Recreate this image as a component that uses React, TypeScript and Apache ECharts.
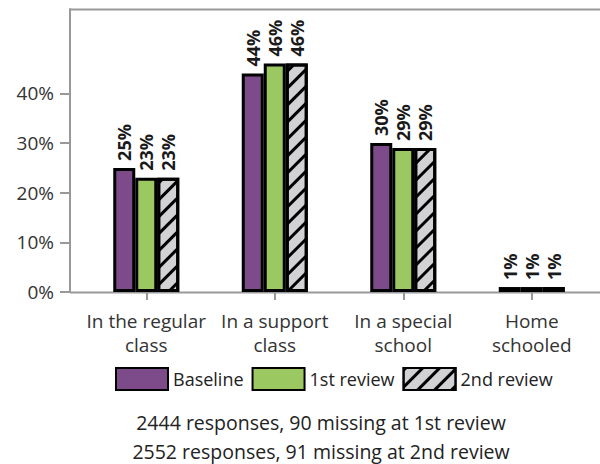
import React, { useEffect, useRef } from "react";
import * as echarts from "echarts";

const categories = ["In the regular\nclass", "In a support\nclass", "In a special\nschool", "Home\nschooled"];
const baseline = [0.25, 0.44, 0.30, 0.01];
const review1 = [0.23, 0.46, 0.29, 0.01];
const review2 = [0.23, 0.46, 0.29, 0.01];
const seriesNames = ["Baseline", "1st review", "2nd review"];
const yTicks = [0, 0.1, 0.2, 0.3, 0.4];
const footnotes = [
  "2444 responses, 90 missing at 1st review",
  "2552 responses, 91 missing at 2nd review",
];

const FONT = "Open Sans";

export default function App() {
  const ref = useRef<HTMLDivElement>(null);
  useEffect(() => {
    if (!ref.current) return;
    const chart = echarts.init(ref.current, null, { renderer: "svg" });
    const label = {
      show: true,
      position: "top",
      rotate: 90,
      align: "left",
      verticalAlign: "middle",
      distance: 7,
      fontFamily: FONT,
      fontWeight: "bold",
      fontSize: 18,
      color: "#1a1a1a",
      formatter: (p: any) => Math.round(p.value * 100) + "%",
    };
    const mk = (name: string, data: number[], color: string, decal?: any) => ({
      name,
      type: "bar",
      data,
      barWidth: 22,
      barGap: "0%",
      itemStyle: { color, borderColor: "#000", borderWidth: 3, decal },
      label,
    });
    chart.setOption({
      animation: false,
      textStyle: { fontFamily: FONT },
      grid: { left: 82, right: 4, top: 9, bottom: 172, containLabel: false },
      xAxis: {
        type: "category",
        data: categories,
        axisLine: { show: false },
        axisTick: { show: true, alignWithLabel: true, length: 8, lineStyle: { color: "#999", width: 2 } },
        axisLabel: { interval: 0, fontFamily: FONT, fontSize: 19, color: "#333", margin: 17, lineHeight: 24 },
      },
      yAxis: {
        type: "value",
        min: 0,
        max: 0.57,
        interval: 0.1,
        offset: 12,
        axisLine: { show: true, lineStyle: { color: "#999", width: 2 } },
        axisTick: { show: true, length: 10, customValues: yTicks, lineStyle: { color: "#999", width: 2 } },
        splitLine: { show: false },
        axisLabel: {
          customValues: yTicks,
          fontFamily: FONT,
          fontSize: 19,
          color: "#333",
          margin: 16,
          formatter: (v: number) => Math.round(v * 100) + "%",
        },
      },
      legend: {
        left: 110,
        top: 362,
        icon: "rect",
        itemWidth: 52,
        itemHeight: 22,
        itemGap: 8,
        textStyle: { fontFamily: FONT, fontSize: 18, color: "#222" },
        data: seriesNames,
      },
      series: [
        mk(seriesNames[0], baseline, "#7d4b8a"),
        mk(seriesNames[1], review1, "#9cc862"),
        mk(seriesNames[2], review2, "#d2d2d5", {
          symbol: "rect",
          color: "#000",
          dashArrayX: [1, 0],
          dashArrayY: [2.5, 9],
          rotation: -Math.PI / 4,
        }),
      ],
      graphic: [
        { type: "line", shape: { x1: 70, y1: 9.5, x2: 600, y2: 9.5 }, style: { stroke: "#999", lineWidth: 2 } },
        { type: "line", shape: { x1: 70, y1: 292.5, x2: 600, y2: 292.5 }, style: { stroke: "#999", lineWidth: 2 } },
        ...footnotes.map((t, i) => ({
          type: "text",
          x: 321,
          y: 422 + i * 29,
          style: { text: t, fontFamily: FONT, fontSize: 19.5, fill: "#222", align: "center", verticalAlign: "middle" },
        })),
      ],
    });
    return () => chart.dispose();
  }, []);
  return <div ref={ref} style={{ position: "absolute", left: 0, top: 0, width: 600, height: 464 }} />;
}
